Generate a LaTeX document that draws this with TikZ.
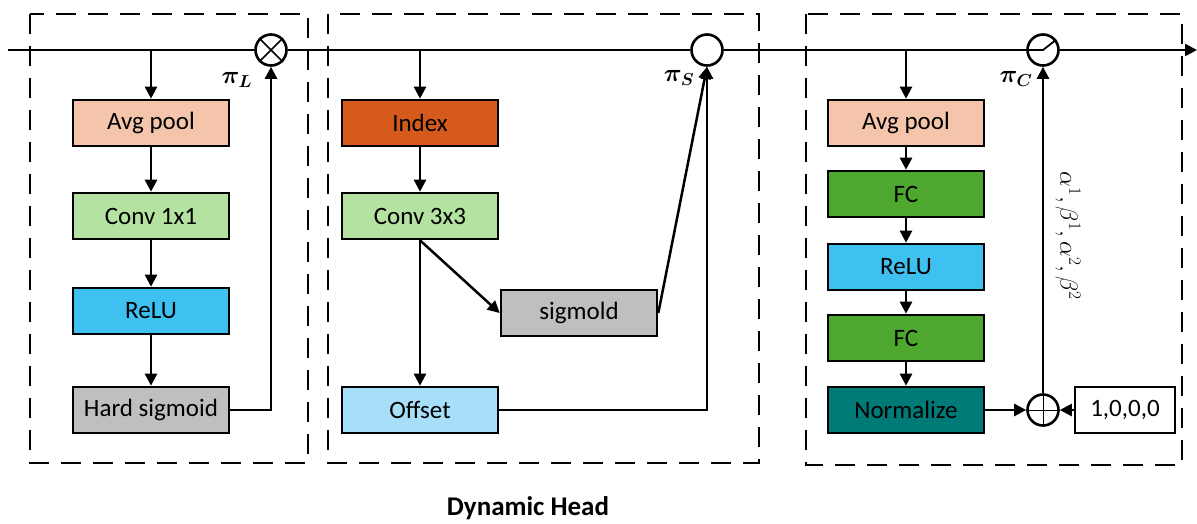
\documentclass[tikz,border=0pt]{standalone}
\usepackage{fontspec}
\setmainfont{Carlito}
\usepackage{amsmath}
\usepackage{bm}
\usetikzlibrary{positioning}
\usetikzlibrary{arrows.meta}
\usetikzlibrary{calc}

\definecolor{peach}{HTML}{F4C5AB}
\definecolor{lgreen}{HTML}{B4E3A1}
\definecolor{skyblue}{HTML}{3EC0F0}
\definecolor{lgray}{HTML}{BFBFBF}
\definecolor{burnt}{HTML}{D55A1B}
\definecolor{paleblue}{HTML}{A6DFF7}
\definecolor{dgreen}{HTML}{4EA72E}
\definecolor{teal}{HTML}{007A77}

\tikzset{
  blk/.style={draw, line width=2.6pt, minimum width=156pt, minimum height=46pt,
    inner sep=0pt, font=\fontsize{25}{29}\selectfont},
  opr/.style={draw, circle, fill=white, line width=2.6pt, minimum size=31pt, inner sep=0pt},
  arr/.style={line width=2.5pt, -{Triangle[length=12pt,width=12pt]}},
  wire/.style={line width=2.5pt},
  dashbox/.style={line width=2.8pt, dash pattern=on 20pt off 12pt},
  lbl/.style={font=\fontsize{27}{31}\selectfont}
}

\begin{document}
\begin{tikzpicture}[x=1pt,y=-1pt]
\useasboundingbox (0,0) rectangle (1197,523);

% dashed groups %
\draw[dashbox] (30,14) rectangle (308,463);
\draw[dashbox] (328,14) rectangle (759,463);
\draw[dashbox] (806,14) rectangle (1182,465);

% main line %
\coordinate (in) at (8,50);
\coordinate (out) at (1197,50);
\node[opr] (mulL) at (271,50) {};
\node[opr] (modS) at (707,50) {};
\node[opr] (actC) at (1043,50) {};
\draw[wire] (in) -- (mulL);
\draw[wire] (mulL) -- (modS);
\draw[wire] (modS) -- (actC);
\draw[arr] (actC) -- (out);
\draw[line width=1.5pt] (mulL.north west) -- (mulL.south east);
\draw[line width=1.5pt] (mulL.north east) -- (mulL.south west);
\draw[line width=1.8pt] (actC.west) -- (actC.center) -- (actC.38);

\node[lbl] (piL) at (237,80) {$\bm{\pi}_{\bm{L}}$};
\node[lbl] (piS) at (679,78) {$\bm{\pi}_{\bm{S}}$};
\node[lbl] (piC) at (1016,79) {$\bm{\pi}_{\bm{C}}$};

% left branch %
\node[blk, fill=peach] (avgL) at (151,123) {Avg pool};
\node[blk, fill=lgreen] (convL) at (151,216) {Conv 1x1};
\node[blk, fill=skyblue] (reluL) at (151,311) {ReLU};
\node[blk, fill=lgray] (hsigL) at (151,410) {Hard sigmoid};

\draw[arr] (mulL -| avgL) -- (avgL);
\draw[arr] (avgL) -- (convL);
\draw[arr] (convL) -- (reluL);
\draw[arr] (reluL) -- (hsigL);
\draw[arr] (hsigL.east) -| (mulL.south);

% middle branch %
\node[blk, fill=burnt] (idxS) at (420,123) {Index};
\node[blk, fill=lgreen] (convS) at (420,216) {Conv 3x3};
\node[blk, fill=lgray] (sigS) at (579,313) {sigmold};
\node[blk, fill=paleblue] (offS) at (420,410) {Offset};

\draw[arr] (modS -| idxS) -- (idxS);
\draw[arr] (idxS) -- (convS);
\draw[arr] (convS.south) -- (offS.north);
\draw[arr] (convS.south) -- (sigS.west);
\draw[arr] (sigS.east) -- (modS.south);
\draw[arr] (offS.east) -| (modS.south);

% right branch %
\node[blk, fill=peach] (avgC) at (906,123) {Avg pool};
\node[blk, fill=dgreen] (fcC1) at (906,194) {FC};
\node[blk, fill=skyblue] (reluC) at (906,267) {ReLU};
\node[blk, fill=dgreen] (fcC2) at (906,338) {FC};
\node[blk, fill=teal] (normC) at (906,410) {Normalize};
\node[opr] (addC) at (1043,410) {};
\node[blk, fill=white, minimum width=100pt] (initC) at (1125,410) {1,0,0,0};
\draw[line width=1pt] (addC.north) -- (addC.south);
\draw[line width=1pt] (addC.west) -- (addC.east);

\draw[arr] (actC -| avgC) -- (avgC);
\draw[arr] (avgC) -- (fcC1);
\draw[arr] (fcC1) -- (reluC);
\draw[arr] (reluC) -- (fcC2);
\draw[arr] (fcC2) -- (normC);
\draw[arr] (normC) -- (addC);
\draw[arr] (initC) -- (addC);
\draw[arr] (addC) -- (actC);
\node[lbl, rotate=-90, font=\fontsize{27}{31}\selectfont] (coef) at (1068,236)
{$\alpha^1,\beta^1,\alpha^2,\beta^2$};

\node[font=\fontsize{27}{32}\selectfont\bfseries] (title) at (528,508) {Dynamic Head};

\end{tikzpicture}
\end{document}
